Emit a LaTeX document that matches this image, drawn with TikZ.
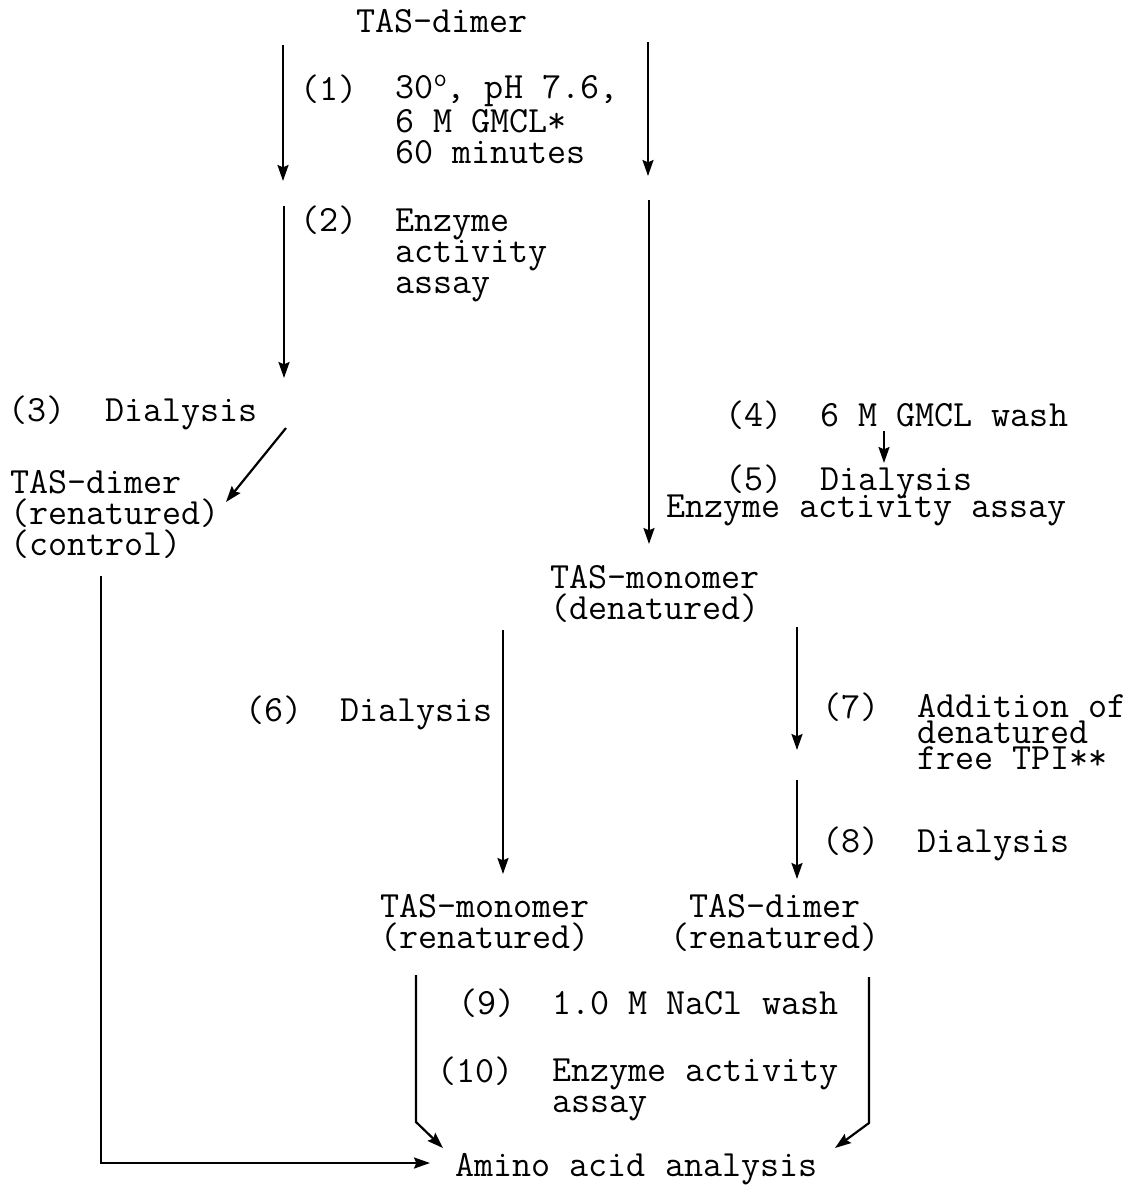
\documentclass[tikz,border=0pt]{standalone}
\usetikzlibrary{arrows.meta}
\begin{document}
\begin{tikzpicture}[x=0.5pt, y=-0.5pt,
    txt/.style={anchor=base west, inner sep=0pt, align=left,
        font=\ttfamily\fontsize{18.5}{15.4}\selectfont},
    flow/.style={-{Stealth[length=8pt, width=5.5pt, inset=1.2pt]}, line width=1.1pt},
    bar/.style={line width=1.1pt}]
    % Page
    \fill[white] (0,0) rectangle (1139,1185);

    % Start (multi-line nodes sit on their last line)
    \node[txt] (top) at (356,32) {TAS-dimer};

    % Steps (1) and (2)
    \node[txt] (n1) at (300,100) {(1)};
    \node[txt] (s1) at (395,163)
        {30\raisebox{0.8ex}{\fontsize{13}{13}\selectfont o}, pH 7.6,\\6 M GMCL*\\60 minutes};
    \node[txt] (n2) at (300,231) {(2)};
    \node[txt] (s2) at (395,293) {Enzyme\\activity\\assay};

    % Control branch
    \node[txt] (n3) at (8,421) {(3)};
    \node[txt] (s3) at (105,421) {Dialysis};
    \node[txt] (ctrl) at (10,555) {TAS-dimer\\(renatured)\\(control)};

    % Denaturing branch
    \node[txt] (n4) at (725,426) {(4)};
    \node[txt] (s4) at (820,426) {6 M GMCL wash};
    \node[txt] (n5) at (725,490) {(5)};
    \node[txt] (s5) at (820,490) {Dialysis};
    \node[txt] (s5b) at (666,517) {Enzyme activity assay};
    \node[txt, align=center] (mono) at (550,619) {TAS-monomer\\(denatured)};

    % Steps (6) to (8)
    \node[txt] (n6) at (245,721) {(6)};
    \node[txt] (s6) at (340,721) {Dialysis};
    \node[txt] (n7) at (822,718) {(7)};
    \node[txt, font=\ttfamily\fontsize{18.5}{12.8}\selectfont] (s7) at (917,769)
        {Addition of\\denatured\\free TPI**};
    \node[txt] (n8) at (822,852) {(8)};
    \node[txt] (s8) at (917,852) {Dialysis};

    % Renatured products
    \node[txt, align=center] (monoR) at (380,948) {TAS-monomer\\(renatured)};
    \node[txt, align=center] (dimerR) at (670,948) {TAS-dimer\\(renatured)};

    % Steps (9) and (10)
    \node[txt] (n9) at (458,1014) {(9)};
    \node[txt] (s9) at (552,1014) {1.0 M NaCl wash};
    \node[txt] (n10) at (437,1082) {(10)};
    \node[txt] (s10) at (552,1112) {Enzyme activity\\assay};
    \node[txt] (amino) at (455,1176) {Amino acid analysis};

    % Arrow ends
    \coordinate (a1s) at (283,45);  \coordinate (a1e) at (283,181);
    \coordinate (b1s) at (648,42);  \coordinate (b1e) at (648,176);
    \coordinate (a2s) at (284,206); \coordinate (a2e) at (284,378);
    \coordinate (b2s) at (649,200); \coordinate (b2e) at (649,544);
    \coordinate (d3s) at (286,428); \coordinate (d3e) at (226,502);
    \coordinate (w4s) at (884,431); \coordinate (w4e) at (884,463);
    \coordinate (c6s) at (503,630); \coordinate (c6e) at (503,874);
    \coordinate (c7s) at (797,627); \coordinate (c7e) at (797,750);
    \coordinate (c8s) at (797,780); \coordinate (c8e) at (797,879);
    \coordinate (ctls) at (101,576); \coordinate (ctle) at (430,1163);
    \coordinate (lms) at (416,975); \coordinate (lmk) at (416,1122); \coordinate (lme) at (443,1148);
    \coordinate (rds) at (869,977); \coordinate (rdk) at (869,1123); \coordinate (rde) at (835,1148);

    % Arrows
    \draw[flow] (a1s) -- (a1e);
    \draw[flow] (b1s) -- (b1e);
    \draw[flow] (a2s) -- (a2e);
    \draw[flow] (b2s) -- (b2e);
    \draw[flow] (d3s) -- (d3e);
    \draw[flow] (w4s) -- (w4e);
    \draw[flow] (c6s) -- (c6e);
    \draw[flow] (c7s) -- (c7e);
    \draw[flow] (c8s) -- (c8e);
    \draw[flow] (ctls) |- (ctle);
    \draw[flow] (lms) -- (lmk) -- (lme);
    \draw[flow] (rds) -- (rdk) -- (rde);
\end{tikzpicture}
\end{document}
